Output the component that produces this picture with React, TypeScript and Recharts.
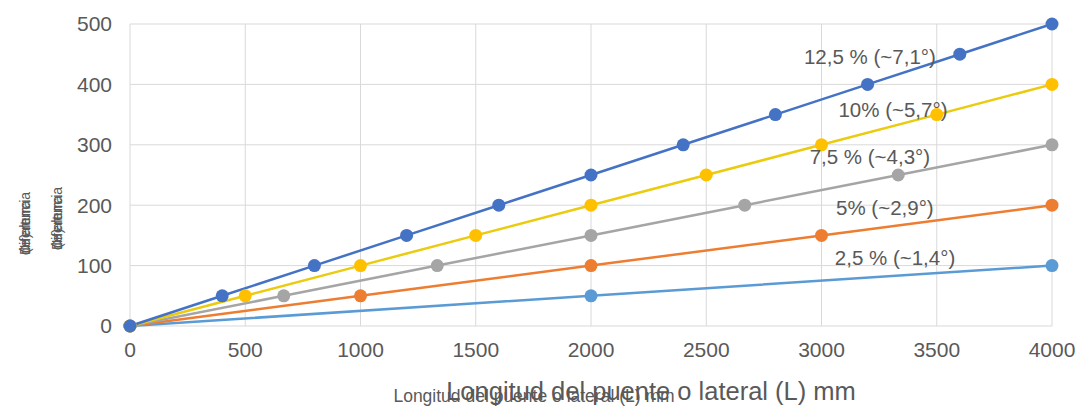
import { ComposedChart, Line, XAxis, YAxis, CartesianGrid, ReferenceDot } from 'recharts';

// longitud (L) mm and diferencia de altura (H) mm for each pendiente
const xBlue = [0, 400, 800, 1200, 1600, 2000, 2400, 2800, 3200, 3600, 4000];
const yBlue = [0, 50, 100, 150, 200, 250, 300, 350, 400, 450, 500];
const xYellow = [0, 500, 1000, 1500, 2000, 2500, 3000, 3500, 4000];
const yYellow = [0, 50, 100, 150, 200, 250, 300, 350, 400];
const xGray = [0, 667, 1333, 2000, 2667, 3333, 4000];
const yGray = [0, 50, 100, 150, 200, 250, 300];
const xOrange = [0, 1000, 2000, 3000, 4000];
const yOrange = [0, 50, 100, 150, 200];
const xLight = [0, 2000, 4000];
const yLight = [0, 50, 100];

const xTicks = [0, 500, 1000, 1500, 2000, 2500, 3000, 3500, 4000];
const yTicks = [0, 100, 200, 300, 400, 500];

const zip = (xs: number[], ys: number[]) => xs.map((x, i) => ({ x, y: ys[i] }));

const series = [
  { name: '2,5 %', data: zip(xLight, yLight), stroke: '#5B9BD5', fill: '#5B9BD5' },
  { name: '5%', data: zip(xOrange, yOrange), stroke: '#ED7D31', fill: '#ED7D31' },
  { name: '7,5 %', data: zip(xGray, yGray), stroke: '#A5A5A5', fill: '#A5A5A5' },
  { name: '10%', data: zip(xYellow, yYellow), stroke: '#EBCB0E', fill: '#FFC000' },
  { name: '12,5 %', data: zip(xBlue, yBlue), stroke: '#4472C4', fill: '#4472C4' },
];

const labels = [
  { text: '12,5 % (~7,1°)', x: 3210, y: 445 },
  { text: '10% (~5,7°)', x: 3310, y: 358 },
  { text: '7,5 % (~4,3°)', x: 3210, y: 280 },
  { text: '5% (~2,9°)', x: 3275, y: 195 },
  { text: '2,5 % (~1,4°)', x: 3319, y: 113 },
];

const font = 'Arial, "Liberation Sans", sans-serif';
const grey = '#595959';

const YTitle = ({ x, y }: { x: number; y: number }) => (
  <g transform={`translate(${x}, ${y}) rotate(-90)`} fill={grey} fontSize={14} fontFamily={font}>
    <text x={0} y={0}>Diferencia</text>
    <text x={0} y={0}>de altura</text>
    <text x={2} y={0}>(H) mm</text>
  </g>
);

export default function App() {
  return (
    <div style={{ position: 'fixed', left: 0, top: 0, width: 1077, height: 407, background: '#fff' }}>
      <ComposedChart width={1077} height={407} margin={{ top: 24, right: 25, bottom: 51, left: 0 }}>
        <CartesianGrid stroke="#D9D9D9" />
        <XAxis
          type="number"
          dataKey="x"
          domain={[0, 4000]}
          ticks={xTicks}
          height={30}
          axisLine={false}
          tickLine={false}
          tickMargin={10}
          tick={{ fontSize: 21, fill: grey, fontFamily: font }}
        />
        <YAxis
          type="number"
          domain={[0, 500]}
          ticks={yTicks}
          width={130}
          axisLine={false}
          tickLine={false}
          tickMargin={12}
          tick={{ fontSize: 21, fill: grey, fontFamily: font }}
        />
        {series.map((s) => (
          <Line
            key={s.name}
            data={s.data}
            dataKey="y"
            type="linear"
            stroke={s.stroke}
            strokeWidth={2.5}
            dot={{ r: 6.5, fill: s.fill, stroke: s.fill, strokeWidth: 0 }}
            isAnimationActive={false}
          />
        ))}
        {labels.map((l) => (
          <ReferenceDot
            key={l.text}
            x={l.x}
            y={l.y}
            r={0}
            stroke="none"
            label={{ value: l.text, position: 'center', fontSize: 20.5, fill: grey, fontFamily: font }}
          />
        ))}
      </ComposedChart>
      <svg width={1077} height={407} style={{ position: 'absolute', left: 0, top: 0, pointerEvents: 'none' }}>
        <YTitle x={30} y={255} />
        <YTitle x={62} y={250} />
        <text x={651} y={400} textAnchor="middle" fontSize={25.5} fill={grey} fontFamily={font}>
          Longitud del puente o lateral (L) mm
        </text>
        <text x={534} y={402} textAnchor="middle" fontSize={17.5} fill={grey} fontFamily={font}>
          Longitud del puente o lateral (L) mm
        </text>
      </svg>
    </div>
  );
}
